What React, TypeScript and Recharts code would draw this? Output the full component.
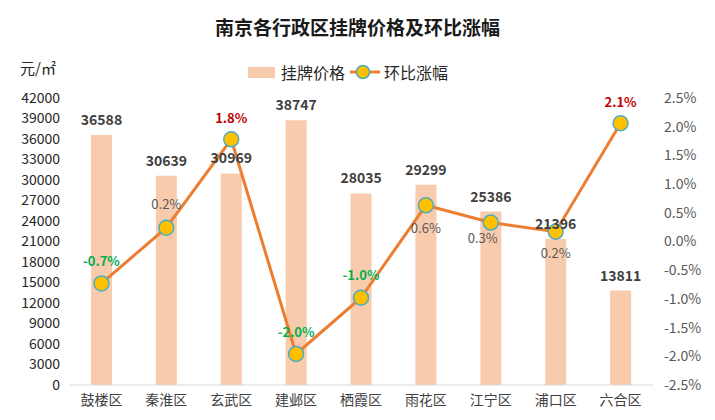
import { ComposedChart, Bar, Line, XAxis, YAxis, LabelList } from 'recharts';

const districts = ['鼓楼区', '秦淮区', '玄武区', '建邺区', '栖霞区', '雨花区', '江宁区', '浦口区', '六合区'];
const prices = [36588, 30639, 30969, 38747, 28035, 29299, 25386, 21396, 13811];
const changes = [-0.73, 0.24, 1.78, -1.96, -0.98, 0.63, 0.33, 0.17, 2.06];
const priceTicks = [0, 3000, 6000, 9000, 12000, 15000, 18000, 21000, 24000, 27000, 30000, 33000, 36000, 39000, 42000];
const changeTicks = [-2.5, -2, -1.5, -1, -0.5, 0, 0.5, 1, 1.5, 2, 2.5];

const data = districts.map((name, i) => ({ name, price: prices[i], change: changes[i] }));

const FONT = '"Noto Sans CJK SC", "Noto Sans", sans-serif';

// label offset for each point of the line (dx, dy from the marker centre)
const changeLabelPos = [
  [0, -23], [0, -24], [0, -22], [0, -23], [0, -23], [0, 22], [-8, 15], [0, 21], [0, -22],
];

function ChangeLabel(props: any) {
  const { x, y, value, index } = props;
  const [dx, dy] = changeLabelPos[index] || [0, -22];
  let fill = '#595959';
  let weight = 400;
  if (value < 0) {
    fill = '#00B050';
    weight = 700;
  } else if (value >= 1) {
    fill = '#C00000';
    weight = 700;
  }
  return (
    <text
      x={x + dx}
      y={y + dy}
      textAnchor="middle"
      dominantBaseline="central"
      fontSize={13}
      fontWeight={weight}
      fill={fill}
      fontFamily={FONT}
    >
      {value.toFixed(1) + '%'}
    </text>
  );
}

function PriceLabel(props: any) {
  const { x, y, width, value } = props;
  return (
    <text
      x={x + width / 2}
      y={y - 16}
      textAnchor="middle"
      dominantBaseline="central"
      fontSize={14}
      fontWeight={700}
      fill="#404040"
      fontFamily={FONT}
    >
      {value}
    </text>
  );
}

export default function App() {
  return (
    <div style={{ position: 'absolute', left: 0, top: 0, width: 715, height: 420, background: '#fff', fontFamily: FONT }}>
      <div
        style={{
          position: 'absolute',
          top: 14,
          left: 0,
          width: 715,
          textAlign: 'center',
          fontSize: 19,
          fontWeight: 700,
          color: '#1a1a1a',
          lineHeight: '26px',
        }}
      >
        南京各行政区挂牌价格及环比涨幅
      </div>
      <div style={{ position: 'absolute', top: 58, left: 20, fontSize: 15, color: '#262626', lineHeight: '20px' }}>
        元/㎡
      </div>
      <div style={{ position: 'absolute', top: 61, left: 248, display: 'flex', alignItems: 'center', fontSize: 16, color: '#262626', lineHeight: '22px' }}>
        <span style={{ display: 'inline-block', width: 27, height: 11, background: '#F8CBAD', marginRight: 6 }} />
        <span>挂牌价格</span>
        <svg width={30} height={16} style={{ marginLeft: 5, marginRight: 4 }}>
          <line x1={0} y1={8} x2={30} y2={8} stroke="#ED7D31" strokeWidth={3} />
          <circle cx={13} cy={8} r={6.5} fill="#FFC000" stroke="#4BACC6" strokeWidth={1.5} />
        </svg>
        <span>环比涨幅</span>
      </div>
      <ComposedChart width={715} height={420} data={data} margin={{ top: 98, right: 0, bottom: 0, left: 0 }}>
        <XAxis
          dataKey="name"
          height={35}
          tickLine={false}
          axisLine={{ stroke: '#D9D9D9' }}
          tick={{ fontSize: 14, fill: '#404040', fontFamily: FONT }}
          tickMargin={4}
        />
        <YAxis
          yAxisId="left"
          width={69}
          domain={[0, 42000]}
          ticks={priceTicks}
          interval={0}
          tickLine={false}
          axisLine={false}
          tick={{ fontSize: 14, fill: '#262626', fontFamily: FONT }}
          tickMargin={3}
        />
        <YAxis
          yAxisId="right"
          orientation="right"
          width={62}
          domain={[-2.5, 2.5]}
          ticks={changeTicks}
          interval={0}
          tickLine={false}
          axisLine={false}
          tickFormatter={(v: number) => v.toFixed(1) + '%'}
          tick={{ fontSize: 14, fill: '#595959', fontFamily: FONT }}
          tickMargin={5}
        />
        <Bar yAxisId="left" dataKey="price" fill="#F8CBAD" barSize={21} isAnimationActive={false}>
          <LabelList dataKey="price" content={PriceLabel} />
        </Bar>
        <Line
          yAxisId="right"
          dataKey="change"
          type="linear"
          stroke="#ED7D31"
          strokeWidth={3}
          dot={{ r: 7.5, fill: '#FFC000', stroke: '#4BACC6', strokeWidth: 1.5 }}
          activeDot={false}
          isAnimationActive={false}
        >
          <LabelList dataKey="change" content={ChangeLabel} />
        </Line>
      </ComposedChart>
    </div>
  );
}
